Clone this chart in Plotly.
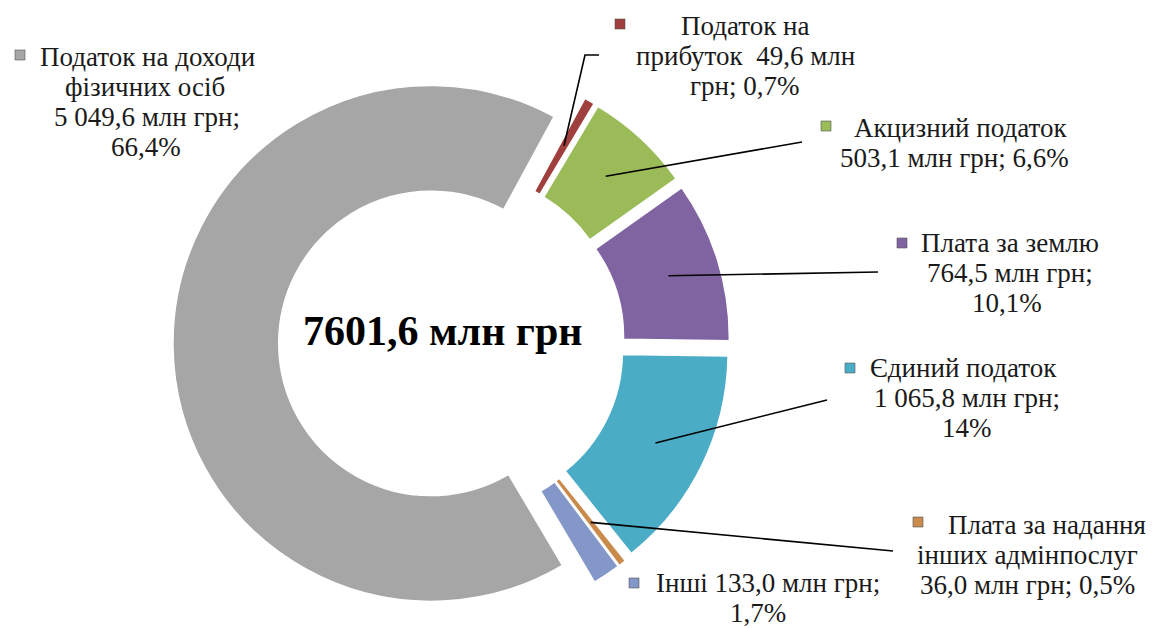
import math
import plotly.graph_objects as go

# ---------------- data ----------------
categories = [
    "Податок на прибуток",
    "Акцизний податок",
    "Плата за землю",
    "Єдиний податок",
    "Плата за надання інших адмінпослуг",
    "Інші",
    "Податок на доходи фізичних осіб",
]
values = [49.6, 503.1, 764.5, 1065.8, 36.0, 133.0, 5049.6]
shares = ["0,7%", "6,6%", "10,1%", "14%", "0,5%", "1,7%", "66,4%"]
value_labels = ["49,6", "503,1", "764,5", "1 065,8", "36,0", "133,0", "5 049,6"]
total_label = "7601,6 млн грн"

colors = ["#A0403E", "#9BBB59", "#8064A2", "#4BACC6", "#C98A4B", "#8497C9", "#A6A6A6"]

# label text lines per slice (as printed in the chart)
label_lines = [
    ["Податок на", "прибуток  49,6 млн", "грн; 0,7%"],
    ["Акцизний податок", "503,1 млн грн; 6,6%"],
    ["Плата за землю", "764,5 млн грн;", "10,1%"],
    ["Єдиний податок", "1 065,8 млн грн;", "14%"],
    ["Плата за надання", "інших адмінпослуг", "36,0 млн грн; 0,5%"],
    ["Інші 133,0 млн грн;", "1,7%"],
    ["Податок на доходи", "фізичних осіб", "5 049,6 млн грн;", "66,4%"],
]

# ---------------- layout geometry (pixels) ----------------
W, H = 1160, 628
CX, CY, R = 451.6, 343.0, 258.0
PULL = 0.08
HOLE = 0.59
ROT = 28.5
FONT = "Liberation Serif"
LSIZE = 27
LSP = 30

# label block: (center x of each line, first line y) and marker position
label_pos = [
    ([745, 745, 745], 26, (620, 24)),
    ([960, 954], 128, (826, 126)),
    ([1010, 1010, 1007], 243, (902, 243)),
    ([963, 967, 967], 368, (850, 368)),
    ([1047, 1027, 1027], 525, (918, 522)),
    ([768, 758], 583, (634, 583)),
    ([147, 145, 147, 146], 57, (20, 55)),
]
# leader line end points (label side); None = no leader
leader_end = [
    [(585, 55), (599, 55)],
    [(802, 142)],
    [(878, 272)],
    [(827, 400)],
    [(893, 551)],
    None,
    None,
]


def px(x):
    return x / W


def py(y):
    return 1 - y / H


half = R * (1 + PULL)
fig = go.Figure()
fig.add_trace(go.Pie(
    labels=categories,
    values=values,
    sort=False,
    direction="clockwise",
    rotation=ROT,
    hole=HOLE,
    pull=[PULL] * len(values),
    marker=dict(colors=colors, line=dict(color="white", width=1.5)),
    textinfo="none",
    hoverinfo="skip",
    showlegend=False,
    domain=dict(x=[px(CX - half), px(CX + half)], y=[py(CY + half), py(CY - half)]),
))

annotations = []
shapes = []

# center total
annotations.append(dict(
    x=px(443), y=py(331), xref="paper", yref="paper", showarrow=False,
    text="<b>" + total_label + "</b>", font=dict(family=FONT, size=42, color="#000000"),
    xanchor="center", yanchor="middle",
))

total = sum(values)
cum = 0.0
for i, v in enumerate(values):
    mid = math.radians(ROT + 360 * (cum + v / 2) / total)
    cum += v
    # labels
    xs, y0, (mx, my) = label_pos[i]
    for j, line in enumerate(label_lines[i]):
        annotations.append(dict(
            x=px(xs[j]), y=py(y0 + j * LSP), xref="paper", yref="paper", showarrow=False,
            text=line, font=dict(family=FONT, size=LSIZE, color="#1a1a1a"),
            xanchor="center", yanchor="middle",
        ))
    # legend key marker
    s = 5
    shapes.append(dict(
        type="rect", xref="paper", yref="paper",
        x0=px(mx - s), x1=px(mx + s), y0=py(my + s), y1=py(my - s),
        fillcolor=colors[i], line=dict(color="#555555", width=0.6),
    ))
    # leader lines
    if leader_end[i]:
        rr = PULL * R + 0.8 * R
        sx = CX + rr * math.sin(mid)
        sy = CY - rr * math.cos(mid)
        pts = [(sx, sy)] + leader_end[i]
        path = "M " + " L ".join(f"{px(a):.5f} {py(b):.5f}" for a, b in pts)
        shapes.append(dict(type="path", xref="paper", yref="paper", path=path,
                           line=dict(color="#000000", width=1.6)))

fig.update_layout(
    width=W, height=H,
    margin=dict(l=0, r=0, t=0, b=0),
    paper_bgcolor="white", plot_bgcolor="white",
    annotations=annotations, shapes=shapes,
)

fig.write_html(
    "out.html",
    config={"displayModeBar": False},
    post_script="document.body.style.margin='0';document.body.style.overflow='hidden';",
)
